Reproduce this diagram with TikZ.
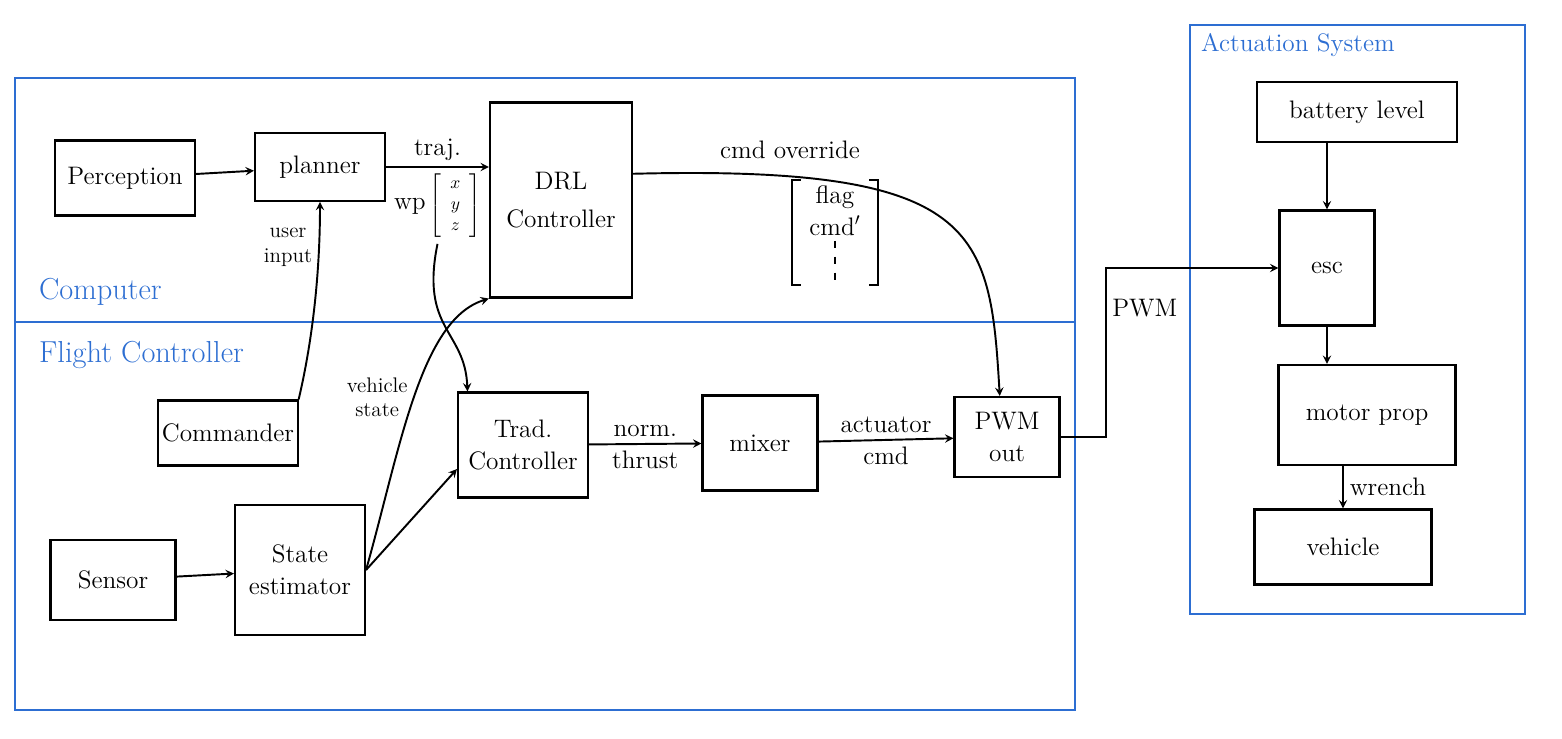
\documentclass[tikz,border=0pt]{standalone}
\definecolor{penblue}{RGB}{45,110,210}
\begin{document}
\begin{tikzpicture}[x=0.02cm,y=-0.02cm,>=stealth,font=\Large,
	blk/.style={draw,line width=1.2pt,align=center,inner sep=2pt},
	grp/.style={draw=penblue,line width=1pt},
	grplbl/.style={text=penblue,anchor=west},
	con/.style={->,line width=1.1pt}]
	\useasboundingbox (0,0) rectangle (1562,739);
	\draw[grp] (15,78) rectangle (1075,710);
	\draw[grp] (15,322) -- (1075,322);
	\draw[grp] (1190,25) rectangle (1525,614);
	\node[grplbl,font=\LARGE] (comp) at (33,292) {Computer};
	\node[grplbl,font=\LARGE] (fc) at (33,355) {Flight Controller};
	\node[grplbl] (act) at (1195,45) {Actuation System};
	\node[blk,minimum width=2.8cm,minimum height=1.5cm] (perc) at (125,178) {Perception};
	\node[blk,minimum width=2.6cm,minimum height=1.35cm] (plan) at (320,167) {planner};
	\node[blk,minimum width=2.84cm,minimum height=3.9cm] (drl) at (561,200) {DRL\\[4pt]Controller};
	\node[blk,minimum width=2.5cm,minimum height=1.3cm] (cmdr) at (228,433) {Commander};
	\node[blk,minimum width=2.5cm,minimum height=1.6cm] (sens) at (113,580) {Sensor};
	\node[blk,minimum width=2.6cm,minimum height=2.6cm] (est) at (300,570) {State\\estimator};
	\node[blk,minimum width=2.6cm,minimum height=2.1cm] (trad) at (523,445) {Trad.\\Controller};
	\node[blk,minimum width=2.3cm,minimum height=1.9cm] (mix) at (760,443) {mixer};
	\node[blk,minimum width=2.1cm,minimum height=1.6cm] (pwm) at (1007,437) {PWM\\out};
	\node[blk,minimum width=4cm,minimum height=1.2cm] (batt) at (1357,112) {battery level};
	\node[blk,minimum width=1.9cm,minimum height=2.3cm] (esc) at (1327,268) {esc};
	\node[blk,minimum width=3.54cm,minimum height=2cm] (motor) at (1367,415) {motor prop};
	\node[blk,minimum width=3.54cm,minimum height=1.5cm] (veh) at (1343,547) {vehicle};
	\draw[con] (perc) -- (plan);
	\draw[con] (plan.east) -- node[above] (traj) {traj.}
		node[below] (wp) {wp\,{\normalsize$\left[\begin{array}{c}x\\y\\z\end{array}\right]$}} (plan.east -| drl.west);
	\draw[con] (cmdr.north east) .. controls (315,330) and (320,260) .. node[pos=0.75,left,align=center,font=\large] (uin) {user\\input} (plan.south);
	\draw[con] (wp.south) .. controls (420,330) and (465,330) .. ([xshift=6pt]trad.north west);
	\draw[con] (est.east) .. controls (400,450) and (420,320) .. node[pos=0.5,left,align=center,font=\large] (vst) {vehicle\\state} (drl.south west);
	\draw[con] (est.east) -- (trad.200);
	\draw[con] (sens) -- (est);
	\draw[con] (trad) -- node[above] (nrm) {norm.} node[below] (thr) {thrust} (mix);
	\draw[con] (mix) -- node[above] (actu) {actuator} node[below] (acmd) {cmd} (pwm);
	\node (ovr) at (790,150) {cmd override};
	\node[align=center,minimum width=1.7cm,anchor=north,inner sep=3pt] (flag) at (835,180) {flag\\cmd$'$};
	\coordinate (flagend) at (835,285);
	\draw[thick] ([xshift=5pt]flag.north west) -| (flag.west |- flagend) -- ++(5pt,0);
	\draw[thick] ([xshift=-5pt]flag.north east) -| (flag.east |- flagend) -- ++(-5pt,0);
	\draw[thick,dash pattern=on 4pt off 5pt] (flag.south) -- (flagend);
	\draw[con] (drl.20) .. controls (980,165) and (990,230) .. (pwm.100);
	\draw[con] (pwm.east) -- ++(45,0) |- node[pos=0.38,right] (pwmlbl) {PWM} (esc.west);
	\draw[con] (batt.south -| esc.north) -- (esc.north);
	\draw[con] (esc.south) -- (esc.south |- motor.north);
	\draw[con] (motor.south -| veh.north) -- node[right] (wr) {wrench} (veh.north);
\end{tikzpicture}
\end{document}
